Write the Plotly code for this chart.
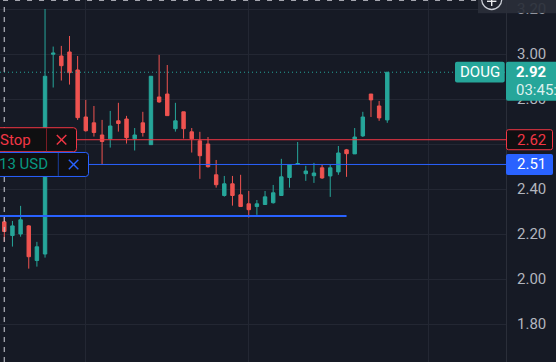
import plotly.graph_objects as go

# ---------------- data ----------------
bar_index = list(range(48))
open_ = [2.255, 2.194, 2.201, 2.237, 2.083, 2.112, 3.000, 2.992, 3.010, 2.930,
         2.721, 2.695, 2.641, 2.624, 2.704, 2.712, 2.624, 2.695, 2.598, 2.810,
         2.823, 2.669, 2.744, 2.655, 2.615, 2.601, 2.464, 2.372, 2.424, 2.375,
         2.335, 2.323, 2.332, 2.340, 2.372, 2.452, 2.512, 2.469, 2.460, 2.495,
         2.459, 2.477, 2.575, 2.557, 2.637, 2.823, 2.770, 2.708]
high = [2.277, 2.259, 2.326, 2.241, 2.166, 3.201, 3.034, 3.037, 3.081, 2.992,
        2.797, 2.770, 2.708, 2.748, 2.784, 2.726, 2.672, 2.744, 2.902, 2.997,
        2.952, 2.784, 2.744, 2.672, 2.655, 2.632, 2.530, 2.459, 2.459, 2.464,
        2.392, 2.352, 2.392, 2.419, 2.535, 2.509, 2.610, 2.504, 2.517, 2.508,
        2.508, 2.592, 2.579, 2.672, 2.744, 2.823, 2.792, 2.920]
low = [2.166, 2.145, 2.189, 2.047, 2.056, 2.096, 2.852, 2.883, 2.865, 2.708,
       2.656, 2.634, 2.512, 2.585, 2.656, 2.603, 2.572, 2.634, 2.598, 2.784,
       2.727, 2.656, 2.625, 2.563, 2.446, 2.496, 2.407, 2.367, 2.327, 2.323,
       2.274, 2.286, 2.332, 2.336, 2.372, 2.407, 2.512, 2.437, 2.428, 2.446,
       2.366, 2.464, 2.455, 2.557, 2.632, 2.721, 2.704, 2.695]
close = [2.212, 2.237, 2.264, 2.100, 2.144, 2.902, 3.005, 2.949, 2.918, 2.718,
         2.660, 2.652, 2.612, 2.681, 2.692, 2.629, 2.641, 2.652, 2.902, 2.788,
         2.727, 2.704, 2.669, 2.624, 2.549, 2.500, 2.420, 2.424, 2.372, 2.323,
         2.309, 2.335, 2.366, 2.384, 2.455, 2.509, 2.514, 2.481, 2.472, 2.450,
         2.495, 2.561, 2.558, 2.632, 2.721, 2.797, 2.717, 2.920]

y_tick_values = [1.60, 1.80, 2.00, 2.20, 2.40, 2.60, 2.80, 3.00, 3.20]
# 2.60 sits fully under the 2.62 order label, so its text is left blank
y_tick_labels = ["1.60", "1.80", "2.00", "2.20", "2.40", "", "2.80", "3.00", "3.20"]
x_grid_index = [10, 30, 52]

symbol = "DOUG"
last_price = 2.92
last_price_text = "2.92"
countdown_text = "03:45:12"
stop_price = 2.62
stop_text = "2.62"
stop_label = "Stop"
entry_price = 2.51
entry_text = "2.51"
pnl_label = "13 USD"
support_price = 2.281
support_end_index = 42
marker_index = 0

# ---------------- style ----------------
BG = "#161a25"
GRID = "#232733"
TEAL = "#26a69a"
RED = "#ef5350"
ORDER_RED = "#f23645"
BLUE = "#2962ff"
DARK = "#0f0f11"
TXT = "#b2b5be"
FONT = "Roboto"

fig = go.Figure()
fig.add_trace(go.Candlestick(
    x=bar_index, open=open_, high=high, low=low, close=close,
    increasing=dict(line=dict(color=TEAL, width=1), fillcolor=TEAL),
    decreasing=dict(line=dict(color=RED, width=1), fillcolor=RED),
    whiskerwidth=0, showlegend=False, hoverinfo="skip",
))


def rrect(x0, x1, y0, y1, r):
    return (f"M {x0+r},{y0} L {x1-r},{y0} Q {x1},{y0} {x1},{y0+r} "
            f"L {x1},{y1-r} Q {x1},{y1} {x1-r},{y1} L {x0+r},{y1} "
            f"Q {x0},{y1} {x0},{y1-r} L {x0},{y0+r} Q {x0},{y0} {x0+r},{y0} Z")


shapes = []
# price lines
shapes.append(dict(type="line", xref="paper", x0=0, x1=1, yref="y", y0=last_price, y1=last_price,
                   line=dict(color=TEAL, width=1, dash="1px,3px"), layer="above"))
shapes.append(dict(type="line", xref="paper", x0=0, x1=1, yref="y", y0=stop_price, y1=stop_price,
                   line=dict(color=ORDER_RED, width=1), layer="above"))
shapes.append(dict(type="line", xref="paper", x0=0, x1=1, yref="y", y0=entry_price, y1=entry_price,
                   line=dict(color=BLUE, width=1), layer="above"))
shapes.append(dict(type="line", xref="x", x0=-5, x1=support_end_index, yref="y",
                   y0=support_price, y1=support_price,
                   line=dict(color=BLUE, width=2.2), layer="above"))
# selection dashed lines
shapes.append(dict(type="line", xref="x", x0=marker_index, x1=marker_index, yref="paper", y0=0, y1=0.985,
                   line=dict(color="rgba(190,192,200,0.85)", width=1.3, dash="5px,5px"), layer="above"))
shapes.append(dict(type="line", xref="paper", x0=0.006, x1=0.95, yref="paper", y0=0.999, y1=0.999,
                   line=dict(color="rgba(190,192,200,0.85)", width=1.5, dash="5px,7px"), layer="above"))

# Stop order box (left)
shapes.append(dict(type="path", xref="paper", xsizemode="pixel", xanchor=0,
                   yref="y", ysizemode="pixel", yanchor=stop_price,
                   path=rrect(-8, 76.5, -12, 12, 3),
                   fillcolor=DARK, line=dict(color=ORDER_RED, width=1), layer="above"))
shapes.append(dict(type="line", xref="paper", xsizemode="pixel", xanchor=0, x0=46.5, x1=46.5,
                   yref="y", ysizemode="pixel", yanchor=stop_price, y0=-11.5, y1=11.5,
                   line=dict(color="#7a1c24", width=1), layer="above"))
for dx in (1, -1):
    shapes.append(dict(type="line", xref="paper", xsizemode="pixel", xanchor=0, x0=56.8, x1=66.3,
                       yref="y", ysizemode="pixel", yanchor=stop_price, y0=-4.8 * dx, y1=4.8 * dx,
                       line=dict(color=ORDER_RED, width=1.4), layer="above"))
# PnL box (left)
shapes.append(dict(type="path", xref="paper", xsizemode="pixel", xanchor=0,
                   yref="y", ysizemode="pixel", yanchor=entry_price,
                   path=rrect(-8, 88.5, -12, 12, 3),
                   fillcolor=DARK, line=dict(color=BLUE, width=1), layer="above"))
shapes.append(dict(type="line", xref="paper", xsizemode="pixel", xanchor=0, x0=58.3, x1=58.3,
                   yref="y", ysizemode="pixel", yanchor=entry_price, y0=-11.5, y1=11.5,
                   line=dict(color="#1a3c9a", width=1), layer="above"))
for dx in (1, -1):
    shapes.append(dict(type="line", xref="paper", xsizemode="pixel", xanchor=0, x0=68.8, x1=78.3,
                       yref="y", ysizemode="pixel", yanchor=entry_price, y0=-4.8 * dx, y1=4.8 * dx,
                       line=dict(color=BLUE, width=1.4), layer="above"))

# right price labels
shapes.append(dict(type="path", xref="paper", xsizemode="pixel", xanchor=1,
                   yref="y", ysizemode="pixel", yanchor=stop_price,
                   path=rrect(0.5, 46.5, -10, 10, 2),
                   fillcolor=DARK, line=dict(color=ORDER_RED, width=1), layer="above"))
shapes.append(dict(type="path", xref="paper", xsizemode="pixel", xanchor=1,
                   yref="y", ysizemode="pixel", yanchor=entry_price,
                   path=rrect(0, 47, -10.5, 10.5, 2),
                   fillcolor=BLUE, line=dict(color=BLUE, width=0), layer="above"))
shapes.append(dict(type="path", xref="paper", xsizemode="pixel", xanchor=1,
                   yref="y", ysizemode="pixel", yanchor=last_price,
                   path=rrect(0, 60, -28.5, 10.5, 2),
                   fillcolor=TEAL, line=dict(color=TEAL, width=0), layer="above"))
shapes.append(dict(type="path", xref="paper", xsizemode="pixel", xanchor=1,
                   yref="y", ysizemode="pixel", yanchor=last_price,
                   path=rrect(-51, -1.3, -10.4, 10.4, 2),
                   fillcolor=TEAL, line=dict(color=TEAL, width=0), layer="above"))

# top-right toolbar box and plus button
shapes.append(dict(type="rect", xref="paper", xsizemode="pixel", xanchor=1, x0=-28, x1=52,
                   yref="paper", ysizemode="pixel", yanchor=1, y0=-13.3, y1=2,
                   fillcolor="rgba(42,46,57,0.93)", line=dict(width=0), layer="above"))
shapes.append(dict(type="circle", xref="paper", xsizemode="pixel", xanchor=1, x0=-24.3, x1=-4.3,
                   yref="paper", ysizemode="pixel", yanchor=1, y0=-9.5, y1=10.5,
                   fillcolor="#1e222d", line=dict(color="#c9ccd4", width=1.3), layer="above"))
shapes.append(dict(type="line", xref="paper", xsizemode="pixel", xanchor=1, x0=-19, x1=-9.6,
                   yref="paper", ysizemode="pixel", yanchor=1, y0=-1.3, y1=-1.3,
                   line=dict(color="#e8e9ec", width=1.4), layer="above"))
shapes.append(dict(type="line", xref="paper", xsizemode="pixel", xanchor=1, x0=-14.3, x1=-14.3,
                   yref="paper", ysizemode="pixel", yanchor=1, y0=-6, y1=4,
                   line=dict(color="#e8e9ec", width=1.4), layer="above"))

annotations = [
    dict(xref="paper", x=0, xanchor="left", xshift=-2, yref="y", y=stop_price, yanchor="middle",
         text=stop_label, showarrow=False, font=dict(family=FONT, size=15, color=ORDER_RED)),
    dict(xref="paper", x=0, xanchor="right", xshift=50, yref="y", y=entry_price, yanchor="middle",
         text=pnl_label, showarrow=False, font=dict(family=FONT, size=15, color="#089981")),
    dict(xref="paper", x=1, xanchor="center", xshift=25, yref="y", y=stop_price, yanchor="middle",
         text=stop_text, showarrow=False, font=dict(family=FONT, size=15, color=ORDER_RED)),
    dict(xref="paper", x=1, xanchor="center", xshift=25, yref="y", y=entry_price, yanchor="middle",
         text=entry_text, showarrow=False, font=dict(family=FONT, size=15, color="#ffffff")),
    dict(xref="paper", x=1, xanchor="center", xshift=25.5, yref="y", y=last_price, yanchor="middle",
         text=f"<b>{last_price_text}</b>", showarrow=False, font=dict(family=FONT, size=15, color="#ffffff")),
    dict(xref="paper", x=1, xanchor="left", xshift=8, yref="y", y=last_price, yanchor="middle", yshift=-18,
         text=countdown_text, showarrow=False, font=dict(family=FONT, size=15, color="rgba(255,255,255,0.85)")),
    dict(xref="paper", x=1, xanchor="center", xshift=-26, yref="y", y=last_price, yanchor="middle",
         text=symbol, showarrow=False, font=dict(family=FONT, size=15, color="#ffffff")),
]

fig.update_layout(
    width=556, height=362,
    margin=dict(l=0, r=50, t=0, b=0),
    paper_bgcolor=BG, plot_bgcolor=BG,
    font=dict(family=FONT, color=TXT, size=15),
    showlegend=False,
    boxgap=0.4,
    shapes=shapes,
    annotations=annotations,
    xaxis=dict(range=[-0.528, 61.57], rangeslider=dict(visible=False),
               tickvals=x_grid_index, showticklabels=False, ticks="",
               showgrid=True, gridcolor=GRID, gridwidth=1, zeroline=False, showline=False),
    yaxis=dict(side="right", range=[1.632, 3.241], tickvals=y_tick_values, ticktext=y_tick_labels,
               showgrid=True, gridcolor=GRID, gridwidth=1, zeroline=False,
               showline=True, linecolor="#2a2e39", linewidth=1, ticks="",
               ticklabelstandoff=7, tickfont=dict(family=FONT, size=15, color=TXT)),
)

fig.write_html("out.html", config={"displayModeBar": False},
               post_script="document.body.style.margin='0';document.body.style.background='#161a25';")
